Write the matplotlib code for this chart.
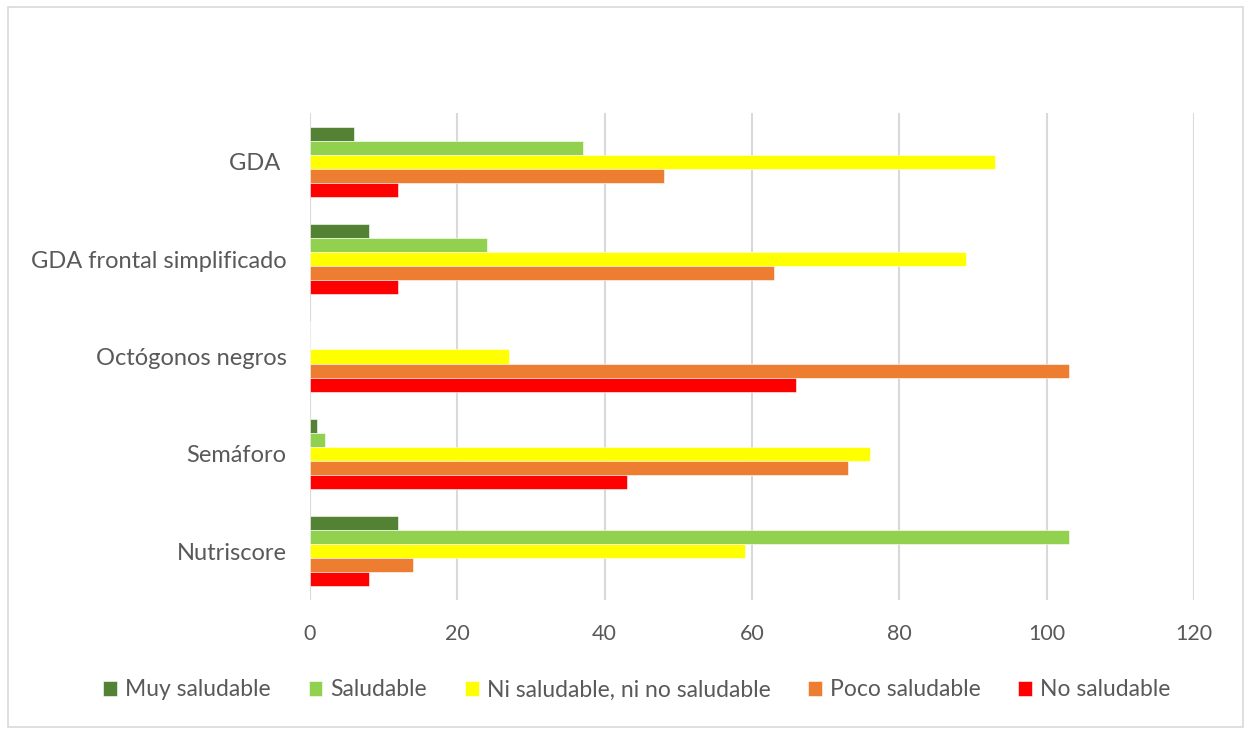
import matplotlib
matplotlib.use("Agg")
import matplotlib.pyplot as plt
from matplotlib.patches import Rectangle
import numpy as np

plt.rcParams['font.family'] = ['Lato', 'DejaVu Sans']

categories = ["Nutriscore", "Semáforo", "Octógonos negros", "GDA frontal simplificado", "GDA "]
series_names = ["Muy saludable", "Saludable", "Ni saludable, ni no saludable", "Poco saludable", "No saludable"]
muy_saludable = [12, 1, 0, 8, 6]
saludable = [103, 2, 0, 24, 37]
ni_ni = [59, 76, 27, 89, 93]
poco_saludable = [14, 73, 103, 63, 48]
no_saludable = [8, 43, 66, 12, 12]
colors = ["#548235", "#92D050", "#FFFF00", "#ED7D31", "#FF0000"]
xticks = [0, 20, 40, 60, 80, 100, 120]

series = [muy_saludable, saludable, ni_ni, poco_saludable, no_saludable]

fig = plt.figure(figsize=(12.5, 7.3), dpi=100)
ax = fig.add_axes([310/1250, 1-600/730, (1194-310)/1250, (600-113)/730])

y = np.arange(len(categories))
h = 0.144
for i, (vals, name, c) in enumerate(zip(series, series_names, colors)):
    ax.barh(y + (2 - i) * h, vals, height=h, color=c, label=name,
            edgecolor='white', linewidth=0.4, zorder=3)

ax.set_xlim(0, 120)
ax.set_ylim(-0.5, 4.5)
ax.set_xticks(xticks)
ax.set_yticks(y)
ax.set_yticklabels(categories)
ax.grid(axis='x', color='#D9D9D9', linewidth=1.5, zorder=0)
ax.set_axisbelow(True)
for s in ax.spines.values():
    s.set_visible(False)
ax.tick_params(axis='both', length=0, colors='#595959')
ax.tick_params(axis='x', pad=17, labelsize=15.5)
ax.tick_params(axis='y', pad=17, labelsize=17)

handles, labels = ax.get_legend_handles_labels()
leg = fig.legend(handles, labels, loc='center', bbox_to_anchor=(0.5096, 1-690/730), ncol=5,
                 frameon=False, fontsize=16.5, handlelength=0.6, handleheight=0.6,
                 handletextpad=0.35, columnspacing=1.65)
for t in leg.get_texts():
    t.set_color('#595959')

fig.patches.append(Rectangle((8/1250, 3/730), (1243-8)/1250, (723-3)/730,
                             transform=fig.transFigure, fill=False,
                             edgecolor='#D9D9D9', linewidth=1.2))

fig.savefig("out.png", dpi=100, facecolor='white')
